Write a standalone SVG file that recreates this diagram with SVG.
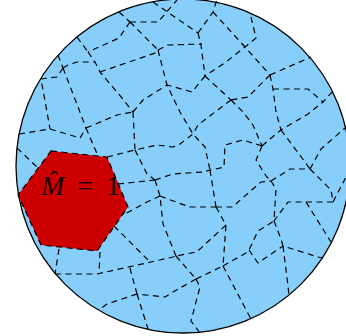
<svg xmlns="http://www.w3.org/2000/svg" width="346" height="336" viewBox="0 0 346 336">
<style>
.d{fill:none;stroke:#000;stroke-width:1.2;stroke-dasharray:6 4.5;stroke-linejoin:round}
.lbl{font-family:"Liberation Serif","DejaVu Serif",serif;font-size:28px;fill:#1a0000}
</style>
<g id="disk"><circle cx="183" cy="166" r="167" fill="#87CEFA" stroke="#000" stroke-width="1.3"/></g>
<g id="connectors">
<polyline class="d" points="119,12 130,22"/>
<polyline class="d" points="130,22 158,22 177,0"/>
<polyline class="d" points="153,2 198,33"/>
<polyline class="d" points="130,22 158,50"/>
<polyline class="d" points="158,50 168,45 202,44"/>
<polyline class="d" points="198,33 213,12 217,-1"/>
<polyline class="d" points="213,12 245,47 270,75"/>
<polyline class="d" points="251,17 256,38 245,47 226,62 205,76"/>
<polyline class="d" points="198,33 201,45 205,76"/>
<polyline class="d" points="270,75 311,57"/>
<polyline class="d" points="270,75 273,89 276,112 281,130"/>
<polyline class="d" points="273,89 308,89 323,102 333,91"/>
<polyline class="d" points="262,146 270,139 281,130 308,114 323,102"/>
<polyline class="d" points="270,75 248,97 231,100"/>
<polyline class="d" points="205,76 231,100"/>
<polyline class="d" points="205,76 192,92 167,85"/>
<polyline class="d" points="231,100 243,112 253,125 262,146"/>
<polyline class="d" points="231,100 215,112 198,125 193,134 180,144 173,147 157,145 135,150"/>
<polyline class="d" points="158,50 167,85 180,112 193,134 205,147 210,170"/>
<polyline class="d" points="281,130 305,162 310,169"/>
<polyline class="d" points="310,169 321,149 345,128"/>
<polyline class="d" points="310,169 331,190 333,202 346,177"/>
<polyline class="d" points="333,202 288,202 274,221"/>
<polyline class="d" points="306,202 331,242"/>
<polyline class="d" points="271,181 290,169 310,169"/>
<polyline class="d" points="262,146 256,160 266,176 271,181"/>
<polyline class="d" points="271,181 276,189 274,221"/>
<polyline class="d" points="262,146 243,140 225,145 224,167 216,169 210,170"/>
<polyline class="d" points="210,170 216,207"/>
<polyline class="d" points="155,180 173,174 203,172 210,170"/>
<polyline class="d" points="216,207 233,207 238,202 261,182 271,181"/>
<polyline class="d" points="216,207 226,225 223,266"/>
<polyline class="d" points="226,225 200,249 196,252 176,256"/>
<polyline class="d" points="160,196 176,202 190,207 216,207"/>
<polyline class="d" points="55,274 97,274 133,266 173,257 176,256"/>
<polyline class="d" points="155,180 160,196 163,224 176,256"/>
<polyline class="d" points="176,256 196,279"/>
<polyline class="d" points="196,279 173,292 165,297 137,294"/>
<polyline class="d" points="196,279 223,266"/>
<polyline class="d" points="196,279 200,287 191,321 200,333"/>
<polyline class="d" points="223,266 251,319"/>
<polyline class="d" points="223,266 246,253 249,250 258,231 274,221"/>
<polyline class="d" points="249,250 258,263 283,246"/>
<polyline class="d" points="274,221 281,239 283,246 318,257 323,258"/>
<polyline class="d" points="283,246 288,286 289,296"/>
<polyline class="d" points="137,294 148,329"/>
<polyline class="d" points="137,294 107,304 100,309"/>
<polyline class="d" points="137,294 130,268"/>
<polyline class="d" points="59,249 55,274"/>
<polyline class="d" points="100,252 99,274"/>
<polyline class="d" points="114,226 150,262"/>
<polyline class="d" points="160,196 147,202 123,215"/>
<polyline class="d" points="118,184 155,180"/>
<polyline class="d" points="135,150 147,174 155,180"/>
<polyline class="d" points="107,157 135,150"/>
<polyline class="d" points="133,112 135,150"/>
<polyline class="d" points="133,112 143,100 167,85"/>
<polyline class="d" points="88,52 95,62 100,72 122,98 133,112"/>
<polyline class="d" points="100,72 158,52"/>
<polyline class="d" points="130,22 119,38 88,52"/>
<polyline class="d" points="77,37 88,52"/>
<polyline class="d" points="63,68 68,65 77,62 95,62"/>
<polyline class="d" points="58,55 63,68"/>
<polyline class="d" points="63,68 57,77 41,79 47,112 50,129"/>
<polyline class="d" points="63,68 78,107 86,128"/>
<polyline class="d" points="86,128 95,149 98,156"/>
<polyline class="d" points="86,128 117,115 133,112"/>
<polyline class="d" points="50,129 80,138 86,128"/>
<polyline class="d" points="19,134 50,129"/>
<polyline class="d" points="17,148 38,168"/>
</g>
<g id="cell-M">
<polygon points="51,151 107,157 128,207 97,251 41,245 18,195" fill="#CC0000" stroke="#000" stroke-width="1.2" stroke-dasharray="6 4.5"/>
<text class="lbl" x="41" y="195" word-spacing="6"><tspan font-style="italic">M̂</tspan> = 1</text>
</g>
</svg>
